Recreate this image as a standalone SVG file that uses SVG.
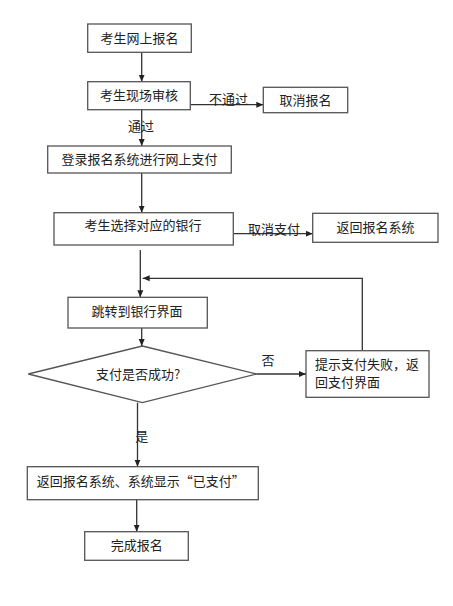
<svg xmlns="http://www.w3.org/2000/svg" width="453" height="606" viewBox="0 0 453 606">
<defs>
<style>
.box{fill:#fff;stroke:#555;stroke-width:1.3}
.ln{fill:none;stroke:#333;stroke-width:1.3}
text{font-family:"Noto Sans CJK SC","Liberation Sans",sans-serif;font-size:13px;fill:#222}
.c{text-anchor:middle}
</style>
<marker id="ah" markerUnits="userSpaceOnUse" markerWidth="8" markerHeight="8" refX="7" refY="4" orient="auto">
<path d="M0,1 L7,4 L0,7 Z" fill="#222"/>
</marker>
</defs>
<rect width="453" height="606" fill="#fff"/>
<g id="connectors">
<line class="ln" x1="141.7" y1="52.3" x2="141.7" y2="81.7" marker-end="url(#ah)"/>
<line class="ln" x1="190.3" y1="104.7" x2="263.3" y2="104.7" marker-end="url(#ah)"/>
<line class="ln" x1="141.7" y1="109.7" x2="141.7" y2="146" marker-end="url(#ah)"/>
<line class="ln" x1="141.7" y1="173" x2="141.7" y2="212.7" marker-end="url(#ah)"/>
<line class="ln" x1="233.3" y1="233.7" x2="312.7" y2="233.7" marker-end="url(#ah)"/>
<line class="ln" x1="140.3" y1="250" x2="140.3" y2="297.3" marker-end="url(#ah)"/>
<polyline class="ln" points="362.3,350.7 362.3,278.3 142.7,278.3" marker-end="url(#ah)"/>
<line class="ln" x1="141.7" y1="328" x2="141.7" y2="346" marker-end="url(#ah)"/>
<line class="ln" x1="256.7" y1="374" x2="306" y2="374" marker-end="url(#ah)"/>
<line class="ln" x1="137.5" y1="402.7" x2="137.5" y2="466.7" marker-end="url(#ah)"/>
<line class="ln" x1="136.7" y1="499.7" x2="136.7" y2="531.7" marker-end="url(#ah)"/>
<text x="228.5" y="103.5" class="c">不通过</text>
<text x="141" y="130.5" class="c">通过</text>
<text x="274" y="233.5" class="c">取消支付</text>
<text x="268" y="364.5" class="c">否</text>
<text x="141.7" y="441" class="c">是</text>
</g>
<g id="n1"><rect class="box" x="87.7" y="24" width="103.6" height="28.3"/><text x="139.5" y="42.5" class="c">考生网上报名</text></g>
<g id="n2"><rect class="box" x="87.7" y="81.7" width="102.6" height="28"/><text x="139" y="100" class="c">考生现场审核</text></g>
<g id="n3"><rect class="box" x="263.3" y="87.3" width="84.4" height="25.4"/><text x="305.5" y="104.5" class="c">取消报名</text></g>
<g id="n4"><rect class="box" x="47.7" y="146" width="183.6" height="27"/><text x="139.5" y="164" class="c">登录报名系统进行网上支付</text></g>
<g id="n5"><rect class="box" x="54" y="212.7" width="179.3" height="32.3"/><text x="143" y="229.5" class="c">考生选择对应的银行</text></g>
<g id="n6"><rect class="box" x="312.7" y="213.3" width="125.3" height="29"/><text x="375.5" y="232" class="c">返回报名系统</text></g>
<g id="n7"><rect class="box" x="68" y="297.3" width="139.3" height="30.7"/><text x="137" y="315.5" class="c">跳转到银行界面</text></g>
<g id="n8"><polygon class="box" points="142.3,346 256.7,374 142.3,402.7 28.3,374"/><text x="138" y="378.5" class="c">支付是否成功?</text></g>
<g id="n9"><rect class="box" x="306" y="350.7" width="123" height="46.6"/><text x="315" y="369">提示支付失败，返</text><text x="315" y="387">回支付界面</text></g>
<g id="n10"><rect class="box" x="27.3" y="466.7" width="231" height="33"/><text x="36.7" y="485.5">返回报名系统、系统显示“已支付”</text></g>
<g id="n11"><rect class="box" x="84.7" y="531.7" width="103.6" height="28.6"/><text x="136.7" y="550" class="c">完成报名</text></g>
</svg>
